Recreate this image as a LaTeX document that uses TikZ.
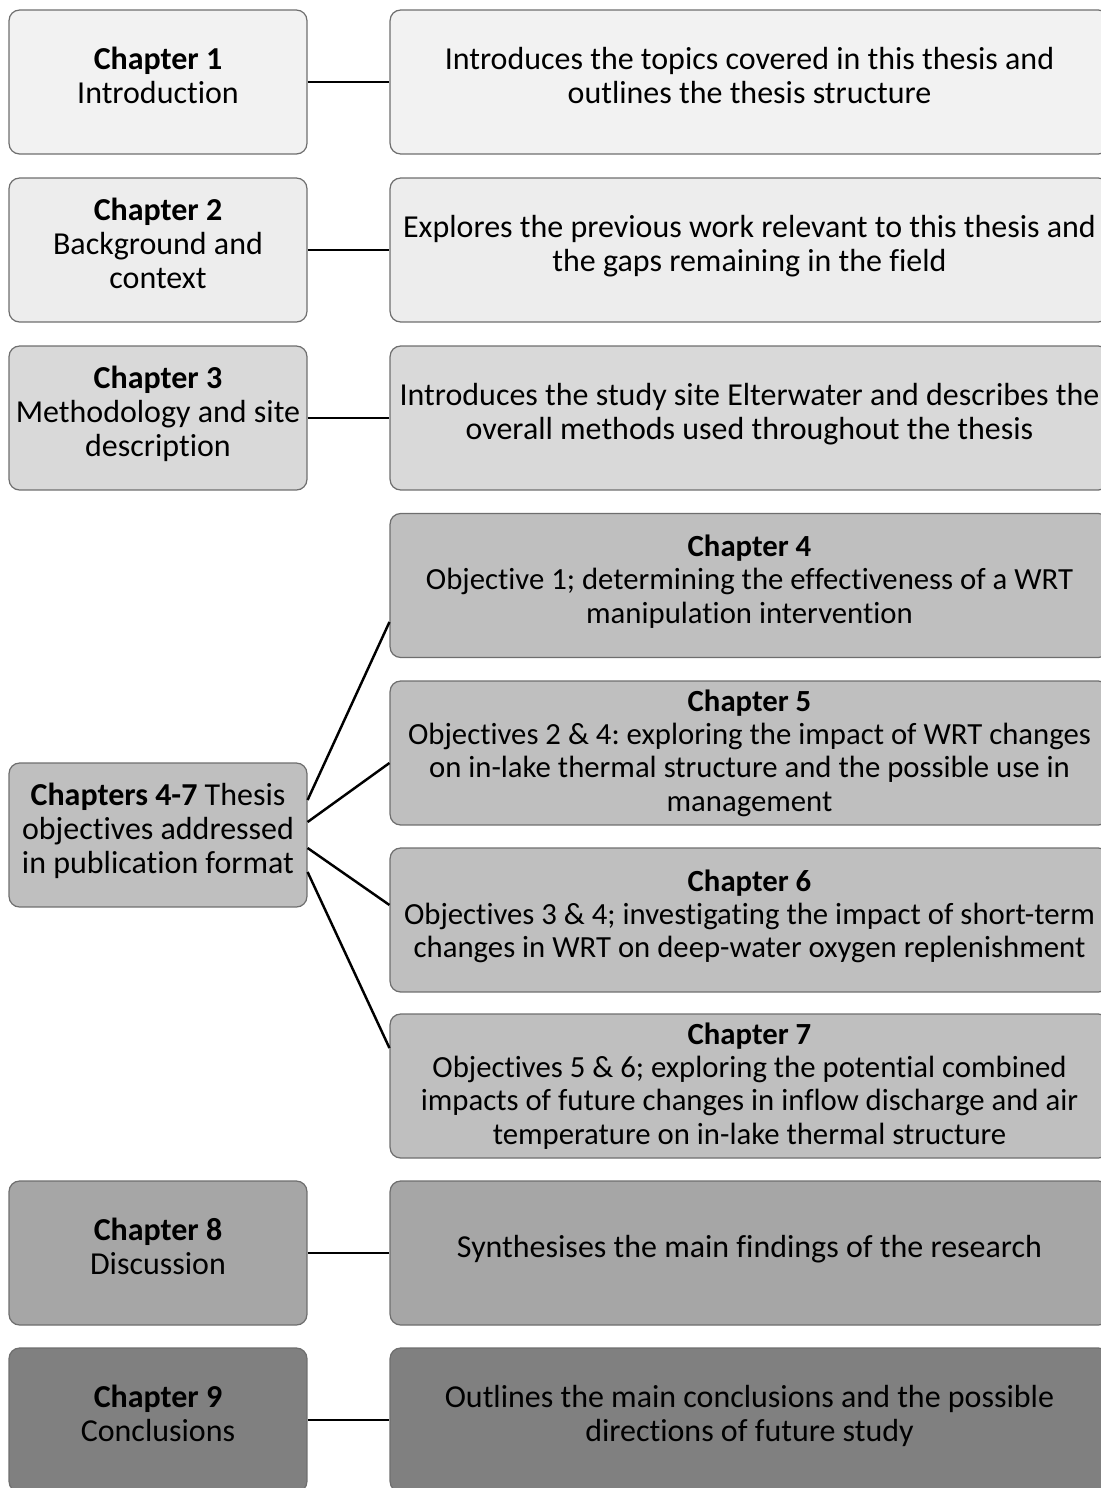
\documentclass[tikz,border=0pt]{standalone}
\usepackage{fontspec}
\setmainfont{Carlito}[Ligatures=CommonOff]
\frenchspacing
\definecolor{chone}{HTML}{F2F2F2}
\definecolor{chtwo}{HTML}{EDEDED}
\definecolor{chthree}{HTML}{D9D9D9}
\definecolor{chpub}{HTML}{BFBFBF}
\definecolor{cheight}{HTML}{A6A6A6}
\definecolor{chnine}{HTML}{808080}
\definecolor{chedge}{HTML}{6E6E6E}
\begin{document}
\begin{tikzpicture}[x=0.02cm, y=-0.02cm,
    every node/.style={font=\fontsize{18.2}{19.5}\selectfont},
    chapbox/.style={rectangle, draw=chedge, line width=0.7pt, rounded corners=6pt,
        minimum width=5.96cm, minimum height=2.88cm, align=center,
        inner xsep=0pt, inner ysep=2pt, text depth=0.26cm},
    descbox/.style={chapbox, minimum width=14.38cm},
    pubdesc/.style={descbox, fill=chpub, font=\fontsize{17.5}{18.9}\selectfont},
    longdesc/.style={pubdesc, text depth=0.1cm},
    link/.style={line width=1.4pt, black}]
            \useasboundingbox (0,0) rectangle (1101,1488);

            % Chapter boxes (left column)
            \node[chapbox, fill=chone] (ch1) at (158,82) {\textbf{Chapter 1}\\Introduction};
            \node[chapbox, fill=chtwo] (ch2) at (158,250) {\textbf{Chapter 2}\\Background and\\context};
            \node[chapbox, fill=chthree] (ch3) at (158,418) {\textbf{Chapter 3}\\Methodology and site\\description};
            \node[chapbox, fill=chpub] (chpub) at (158,835) {\textbf{Chapters 4-7} Thesis\\objectives addressed\\in publication format};
            \node[chapbox, fill=cheight] (ch8) at (158,1253) {\textbf{Chapter 8}\\Discussion};
            \node[chapbox, fill=chnine] (ch9) at (158,1420) {\textbf{Chapter 9}\\Conclusions};

            % Description boxes (right column)
            \node[descbox, fill=chone] (desc1) at (749.5,82)
                {Introduces the topics covered in this thesis and\\outlines the thesis structure};
            \node[descbox, fill=chtwo] (desc2) at (749.5,250)
                {Explores the previous work relevant to this thesis and\\the gaps remaining in the field};
            \node[descbox, fill=chthree] (desc3) at (749.5,418)
                {Introduces the study site Elterwater and describes the\\overall methods used throughout the thesis};
            \node[pubdesc] (desc4) at (749.5,585.5)
                {\textbf{Chapter 4}\\Objective 1; determining the effectiveness of a WRT\\manipulation intervention};
            \node[longdesc] (desc5) at (749.5,753)
                {\textbf{Chapter 5}\\Objectives 2 \& 4: exploring the impact of WRT changes\\on in-lake thermal structure and the possible use in\\management};
            \node[pubdesc] (desc6) at (749.5,920)
                {\textbf{Chapter 6}\\Objectives 3 \& 4; investigating the impact of short-term\\changes in WRT on deep-water oxygen replenishment};
            \node[longdesc] (desc7) at (749.5,1086)
                {\textbf{Chapter 7}\\Objectives 5 \& 6; exploring the potential combined\\impacts of future changes in inflow discharge and air\\temperature on in-lake thermal structure};
            \node[descbox, fill=cheight] (desc8) at (749.5,1253)
                {Synthesises the main findings of the research};
            \node[descbox, fill=chnine] (desc9) at (749.5,1420)
                {Outlines the main conclusions and the possible\\directions of future study};

            % Links
            \draw[link] (ch1.east) -- (desc1.west);
            \draw[link] (ch2.east) -- (desc2.west);
            \draw[link] (ch3.east) -- (desc3.west);
            \draw[link] ([yshift=0.7cm]chpub.east) -- ([yshift=-0.73cm]desc4.west);
            \draw[link] ([yshift=0.26cm]chpub.east) -- ([yshift=-0.2cm]desc5.west);
            \draw[link] ([yshift=-0.26cm]chpub.east) -- ([yshift=0.3cm]desc6.west);
            \draw[link] ([yshift=-0.74cm]chpub.east) -- ([yshift=0.76cm]desc7.west);
            \draw[link] (ch8.east) -- (desc8.west);
            \draw[link] (ch9.east) -- (desc9.west);
        \end{tikzpicture}
\end{document}
